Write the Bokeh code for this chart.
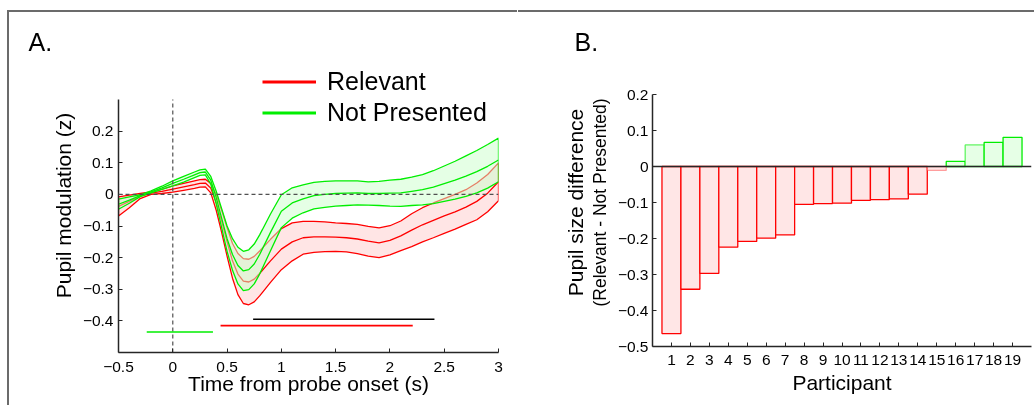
from bokeh.plotting import figure
from bokeh.models import (Span, Legend, LegendItem, LinearAxis, FixedTicker,
                          ColumnDataSource, Range1d)
from bokeh.embed import file_html
from bokeh.resources import INLINE

FONT = "Liberation Sans"

# ---------------- Panel A data ----------------
time_s = [-0.5, -0.4, -0.3, -0.2, -0.1, 0.0, 0.1, 0.2, 0.25, 0.3, 0.35, 0.4, 0.45, 0.5,
          0.55, 0.6, 0.65, 0.7, 0.75, 0.8, 0.9, 1.0, 1.1, 1.2, 1.3, 1.4, 1.5, 1.6, 1.7,
          1.8, 1.9, 2.0, 2.1, 2.2, 2.3, 2.4, 2.5, 2.6, 2.7, 2.8, 2.9, 3.0]

relevant_mean = [-0.038, -0.022, -0.005, 0.004, 0.010, 0.017, 0.024, 0.031, 0.035, 0.036,
                 0.020, -0.025, -0.085, -0.150, -0.210, -0.252, -0.274, -0.277, -0.268,
                 -0.250, -0.210, -0.173, -0.150, -0.137, -0.134, -0.134, -0.135, -0.137,
                 -0.141, -0.148, -0.153, -0.145, -0.131, -0.113, -0.096, -0.082, -0.068,
                 -0.055, -0.040, -0.022, 0.004, 0.040]
relevant_sem = [0.030, 0.020, 0.008, 0.004, 0.007, 0.010, 0.011, 0.012, 0.012, 0.012,
                0.015, 0.025, 0.035, 0.045, 0.055, 0.065, 0.071, 0.072, 0.072, 0.071,
                0.068, 0.065, 0.060, 0.052, 0.049, 0.047, 0.045, 0.045, 0.046, 0.047,
                0.047, 0.046, 0.047, 0.052, 0.054, 0.055, 0.055, 0.055, 0.055, 0.058,
                0.059, 0.060]

notpres_mean = [-0.031, -0.018, -0.004, 0.008, 0.021, 0.035, 0.048, 0.062, 0.069, 0.071,
                0.045, -0.010, -0.075, -0.140, -0.190, -0.225, -0.242, -0.238, -0.220,
                -0.190, -0.120, -0.053, -0.027, -0.014, -0.004, 0.000, 0.003, 0.004,
                0.005, 0.003, 0.003, 0.004, 0.005, 0.010, 0.015, 0.023, 0.034, 0.045,
                0.058, 0.072, 0.089, 0.109]
notpres_sem = [0.016, 0.010, 0.003, 0.003, 0.005, 0.008, 0.009, 0.009, 0.009, 0.009,
               0.012, 0.020, 0.030, 0.040, 0.050, 0.058, 0.062, 0.063, 0.063, 0.062,
               0.058, 0.052, 0.048, 0.044, 0.042, 0.041, 0.040, 0.039, 0.038, 0.037,
               0.038, 0.041, 0.043, 0.045, 0.048, 0.052, 0.056, 0.060, 0.064, 0.067,
               0.069, 0.069]

# significance bars (start, end, level)
sig_start = [-0.24, 0.44, 0.74]
sig_end = [0.37, 2.21, 2.41]
sig_level = [-0.435, -0.415, -0.395]

xlim_a = (-0.5, 3.0)
ylim_a = (-0.5, 0.3)
xticks_a = [-0.5, 0.0, 0.5, 1.0, 1.5, 2.0, 2.5, 3.0]
xlabels_a = ["\u22120.5", "0", "0.5", "1", "1.5", "2", "2.5", "3"]
yticks_a = [-0.4, -0.3, -0.2, -0.1, 0.0, 0.1, 0.2]
ylabels_a = ["\u22120.4", "\u22120.3", "\u22120.2", "\u22120.1", "0", "0.1", "0.2"]

# ---------------- Panel B data ----------------
participants = list(range(1, 20))
pupil_diff = [-0.464, -0.341, -0.297, -0.224, -0.208, -0.199, -0.190, -0.105, -0.103,
              -0.102, -0.094, -0.092, -0.090, -0.077, -0.011, 0.014, 0.060, 0.067, 0.081]
xlabels_b = [str(i) for i in participants]
ylim_b = (-0.5, 0.2)
yticks_b = [-0.5, -0.4, -0.3, -0.2, -0.1, 0.0, 0.1, 0.2]
ylabels_b = ["\u22120.5", "\u22120.4", "\u22120.3", "\u22120.2", "\u22120.1", "0", "0.1", "0.2"]

# styles
RED = "#ff0000"
GREEN = "#00ee00"
AXC = "#262626"
BORDER = "2px solid #6b6b6b"
bar_edge_alpha = [1] * 14 + [0.35, 1, 0.6, 1, 1]


def style_axis(ax, label_size="21px"):
    ax.axis_line_color = AXC
    ax.axis_line_width = 1.5
    ax.major_tick_in = 4
    ax.major_tick_out = 0
    ax.major_tick_line_color = AXC
    ax.minor_tick_line_color = None
    ax.major_label_text_font = FONT
    ax.major_label_text_font_size = "15.5px"
    ax.major_label_text_color = "#000000"
    ax.axis_label_text_font = FONT
    ax.axis_label_text_font_size = label_size
    ax.axis_label_text_font_style = "normal"
    ax.axis_label_text_color = "#000000"


def style_title(p, text, offset):
    p.title.text = text
    p.title.align = "left"
    p.title.offset = offset
    p.title.standoff = 5
    p.title.text_font = FONT
    p.title.text_font_size = "25px"
    p.title.text_font_style = "normal"
    p.title.text_color = "#000000"


# ================= Panel A =================
# frame extends above the axes so the legend can sit there; the axis itself is bounded
pA = figure(width=510, height=430, x_range=Range1d(*xlim_a), y_range=Range1d(ylim_a[0], 0.43),
            output_backend="svg", toolbar_location=None,
            min_border_left=109, min_border_right=21, min_border_top=46, min_border_bottom=90,
            styles={"position": "fixed", "top": "10px", "left": "7px",
                    "border-top": BORDER, "border-left": BORDER})
pA.outline_line_color = None
pA.grid.visible = False
style_title(pA, "A.", -90)


def band(mean, sem):
    up = [m + s for m, s in zip(mean, sem)]
    lo = [m - s for m, s in zip(mean, sem)]
    return time_s + time_s[::-1], up + lo[::-1]


rx, ry = band(relevant_mean, relevant_sem)
gx, gy = band(notpres_mean, notpres_sem)

pA.patch(rx, ry, fill_color="#ffcccc", fill_alpha=0.5, line_color=RED, line_width=1.3)
r_line = pA.line(time_s, relevant_mean, line_color=RED, line_width=1.3)
pA.patch(gx, gy, fill_color="#ccffcc", fill_alpha=0.5, line_color=GREEN, line_width=1.3)
g_line = pA.line(time_s, notpres_mean, line_color=GREEN, line_width=1.3)

# dashed reference lines at t = 0 and z = 0
pA.segment(x0=[0], y0=[ylim_a[0]], x1=[0], y1=[ylim_a[1]], line_color="#505050",
           line_dash="4 3", line_width=1.2)
pA.add_layout(Span(location=0, dimension="width", line_color="#505050",
                   line_dash="4 3", line_width=1.2))

pA.segment(x0=sig_start, y0=sig_level, x1=sig_end, y1=sig_level,
           line_color=[GREEN, RED, "#000000"], line_width=1.6)

style_axis(pA.xaxis[0])
style_axis(pA.yaxis[0])
pA.yaxis.bounds = ylim_a
pA.xaxis.ticker = FixedTicker(ticks=xticks_a)
pA.xaxis.major_label_overrides = dict(zip(xticks_a, xlabels_a))
pA.yaxis.ticker = FixedTicker(ticks=yticks_a)
pA.yaxis.major_label_overrides = dict(zip(yticks_a, ylabels_a))
pA.xaxis.axis_label = "Time from probe onset (s)"
pA.yaxis.axis_label = "Pupil modulation (z)"
pA.xaxis.major_label_standoff = 9
pA.xaxis.axis_label_standoff = -3
pA.yaxis.major_label_standoff = 5
pA.yaxis.axis_label_standoff = 5

# legend keys: single-point renderers (draw nothing) with thicker legend lines
leg_r = pA.line(x=time_s[:1], y=relevant_mean[:1], line_color=RED, line_width=3)
leg_g = pA.line(x=time_s[:1], y=notpres_mean[:1], line_color=GREEN, line_width=3)
legend = Legend(items=[LegendItem(label="Relevant", renderers=[leg_r]),
                       LegendItem(label="Not Presented", renderers=[leg_g])],
                location=(144, 224), orientation="vertical",
                label_text_font=FONT, label_text_font_size="25px",
                label_text_color="#000000",
                label_height=31, glyph_height=31, glyph_width=54, label_standoff=11,
                spacing=0, padding=0, margin=0,
                border_line_color=None, background_fill_alpha=0)
pA.add_layout(legend)

# ================= Panel B =================
pB = figure(width=516, height=430, x_range=Range1d(0, 20), y_range=Range1d(ylim_b[0], 0.3),
            output_backend="svg", toolbar_location=None,
            min_border_left=134, min_border_right=3, min_border_top=46, min_border_bottom=96,
            styles={"position": "fixed", "top": "10px", "left": "518px",
                    "border-top": BORDER})
pB.outline_line_color = None
pB.grid.visible = False
style_title(pB, "B.", -78)

bar_fill = ["#ffe6e6" if v < 0 else "#e6ffe6" for v in pupil_diff]
bar_line = [RED if v < 0 else GREEN for v in pupil_diff]
src = ColumnDataSource(dict(x=participants, top=pupil_diff, fill=bar_fill,
                            line=bar_line, la=bar_edge_alpha))
pB.vbar(x="x", top="top", bottom=0, width=1, source=src, fill_color="fill",
        line_color="line", line_alpha="la", line_width=1.3)
pB.add_layout(Span(location=0, dimension="width", line_color=AXC, line_width=1.5))

style_axis(pB.xaxis[0])
style_axis(pB.yaxis[0], label_size="17.5px")
pB.yaxis.bounds = ylim_b
pB.xaxis.ticker = FixedTicker(ticks=participants)
pB.xaxis.major_label_overrides = dict(zip(participants, xlabels_b))
pB.yaxis.ticker = FixedTicker(ticks=yticks_b)
pB.yaxis.major_label_overrides = dict(zip(yticks_b, ylabels_b))
pB.xaxis.axis_label = "Participant"
pB.yaxis.axis_label = "(Relevant - Not Presented)"
pB.xaxis.major_label_standoff = 8
pB.xaxis.axis_label_standoff = 3
pB.yaxis.major_label_standoff = 4
pB.yaxis.axis_label_standoff = 5

outer = LinearAxis(axis_label="Pupil size difference", ticker=FixedTicker(ticks=[]))
outer.axis_line_color = None
outer.major_tick_in = 0
outer.major_tick_out = 0
outer.minor_tick_line_color = None
outer.axis_label_standoff = 0
outer.axis_label_text_font = FONT
outer.axis_label_text_font_size = "21px"
outer.axis_label_text_font_style = "normal"
outer.axis_label_text_color = "#000000"
pB.add_layout(outer, "left")

open("out.html", "w").write(file_html([pA, pB], INLINE))
